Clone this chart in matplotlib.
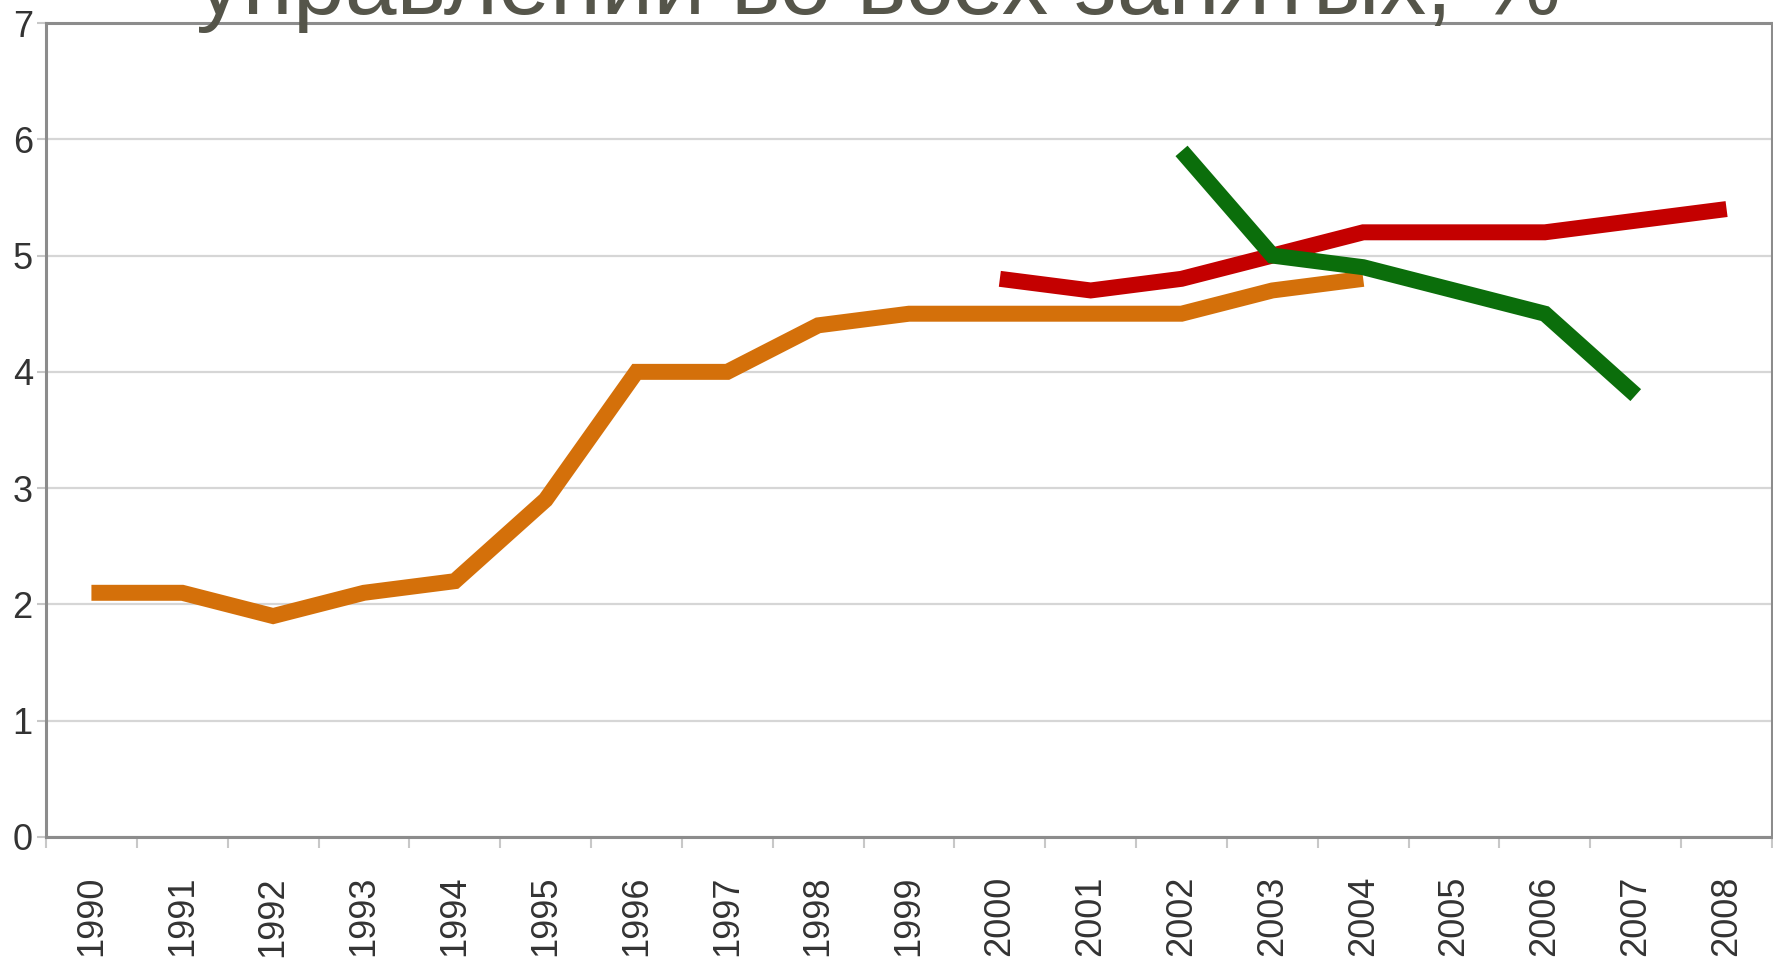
import numpy as np
import matplotlib.pyplot as plt

years = [str(y) for y in range(1990, 2009)]

# доля (в %), три ряда
orange_years = list(range(1990, 2005))
orange_vals = [2.1, 2.1, 1.9, 2.1, 2.2, 2.9, 4.0, 4.0, 4.4, 4.5, 4.5, 4.5, 4.5, 4.7, 4.8]

red_years = list(range(2000, 2009))
red_vals = [4.8, 4.7, 4.8, 5.0, 5.2, 5.2, 5.2, 5.3, 5.4]

green_years = list(range(2002, 2008))
green_vals = [5.9, 5.0, 4.9, 4.7, 4.5, 3.8]

title = "управлений во всех занятых, %"


def pos(yrs):
    return [years.index(str(y)) for y in yrs]


fig = plt.figure(figsize=(17.74, 9.59), dpi=100)
W, H = 1774, 959
ax = fig.add_axes([46 / W, 1 - 837 / H, (1772 - 46) / W, (837 - 23) / H])

ax.set_xlim(-0.5, len(years) - 0.5)
ax.set_ylim(0, 7)
ax.set_yticks(range(0, 8))
ax.grid(axis='y', color='#d6d6d6', linewidth=1.6)
ax.set_axisbelow(True)

lw = 11.5
ax.plot(pos(orange_years), orange_vals, color='#d4700a', linewidth=lw,
        solid_capstyle='butt', solid_joinstyle='miter')
ax.plot(pos(red_years), red_vals, color='#c40000', linewidth=lw,
        solid_capstyle='butt', solid_joinstyle='miter')
ax.plot(pos(green_years), green_vals, color='#0b6e0b', linewidth=lw,
        solid_capstyle='butt', solid_joinstyle='miter')

ax.set_xticks(range(len(years)))
ax.set_xticklabels(years, rotation=90, fontsize=26, color='#333333',
                   family='Liberation Sans')
ax.set_xticks(np.arange(-0.5, len(years), 1), minor=True)
ax.tick_params(axis='x', which='major', length=0, pad=28)
ax.tick_params(axis='x', which='minor', length=8, width=1.5, color='#c8c8c8')
ax.tick_params(axis='y', length=6.5, width=1.5, color='#c8c8c8', pad=3,
               labelsize=26, labelcolor='#333333')
for lab in ax.get_yticklabels():
    lab.set_family('Liberation Sans')

for s in ax.spines.values():
    s.set_color('#8c8c8c')
    s.set_linewidth(2.2)

fig.text(878 / W, 1 - 14 / H, title, ha='center', va='baseline',
         fontsize=67, color='#55554a', family='Liberation Sans')

plt.savefig('out.png', dpi=100)
plt.close()
